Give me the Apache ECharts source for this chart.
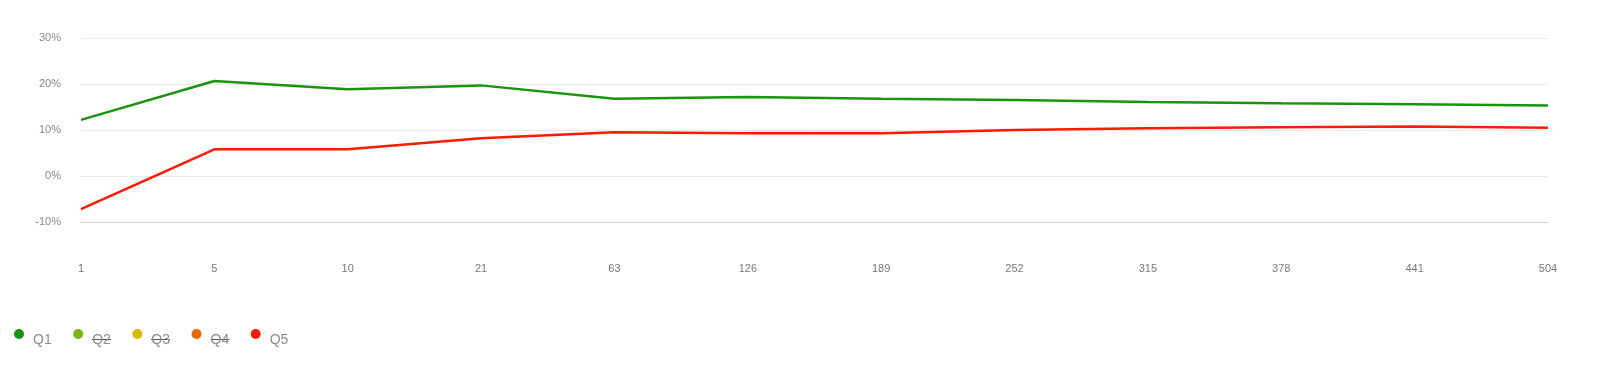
<!DOCTYPE html>
<html>
<head>
<meta charset="utf-8">
<script src="https://cdn.jsdelivr.net/npm/echarts@6/dist/echarts.min.js"></script>
<style>
html,body{margin:0;padding:0;background:#fff;}
#chart{width:1600px;height:365px;}
</style>
</head>
<body>
<div id="chart"></div>
<script>
const categories = ['1','5','10','21','63','126','189','252','315','378','441','504'];
const q1Values = [12.2, 20.65, 18.85, 19.7, 16.8, 17.2, 16.8, 16.5, 16.1, 15.8, 15.6, 15.35];
const q5Values = [-7.2, 5.8, 5.8, 8.2, 9.5, 9.27, 9.27, 10.0, 10.4, 10.6, 10.75, 10.5];
const seriesNames = ['Q1','Q2','Q3','Q4','Q5'];
const seriesColors = ['#1a9410','#7db614','#d5bb00','#e56b08','#ff1a00'];
const yTicks = {min: -10, max: 30, interval: 10};

const seriesData = {Q1: q1Values, Q2: [], Q3: [], Q4: [], Q5: q5Values};

const chart = echarts.init(document.getElementById('chart'), null, {renderer: 'canvas'});

const strikeNames = ['Q2','Q3','Q4'];
const strikeX = {Q2: 92, Q3: 151, Q4: 210.5};

chart.setOption({
  animation: false,
  backgroundColor: '#fff',
  color: seriesColors,
  grid: {left: 81, right: 52, top: 38, bottom: 143, containLabel: false},
  xAxis: {
    type: 'category',
    data: categories,
    boundaryGap: false,
    axisLine: {show: true, onZero: false, lineStyle: {color: '#cccccc'}},
    axisTick: {show: false},
    axisLabel: {color: '#777', fontSize: 11, margin: 41, fontFamily: 'Liberation Sans, Arial, sans-serif'},
    splitLine: {show: false}
  },
  yAxis: {
    type: 'value',
    min: yTicks.min,
    max: yTicks.max,
    interval: yTicks.interval,
    axisLine: {show: false},
    axisTick: {show: false},
    axisLabel: {color: '#888', fontSize: 11, margin: 20, formatter: '{value}%', fontFamily: 'Liberation Sans, Arial, sans-serif'},
    splitLine: {lineStyle: {color: '#ebebeb'}}
  },
  legend: {
    left: 9,
    top: 324,
    padding: 5,
    icon: 'circle',
    itemWidth: 10,
    itemHeight: 10,
    itemGap: 21.5,
    data: seriesNames,
    formatter: n => '{t|' + n + '}',
    textStyle: {
      color: '#8c8c8c', fontSize: 14, fontFamily: 'Liberation Sans, Arial, sans-serif',
      rich: {t: {color: '#8c8c8c', fontSize: 14, padding: [12, 0, 0, 4], fontFamily: 'Liberation Sans, Arial, sans-serif'}}
    }
  },
  series: seriesNames.map((n, i) => ({
    name: n,
    type: 'line',
    data: seriesData[n],
    showSymbol: false,
    symbol: 'none',
    lineStyle: {width: 2.5, color: seriesColors[i]},
    itemStyle: {color: seriesColors[i]}
  })),
  graphic: strikeNames.map(n => ({
    type: 'line',
    shape: {x1: strikeX[n], y1: 339.5, x2: strikeX[n] + 19, y2: 339.5},
    style: {stroke: '#555', lineWidth: 1}
  }))
});
</script>
</body>
</html>
